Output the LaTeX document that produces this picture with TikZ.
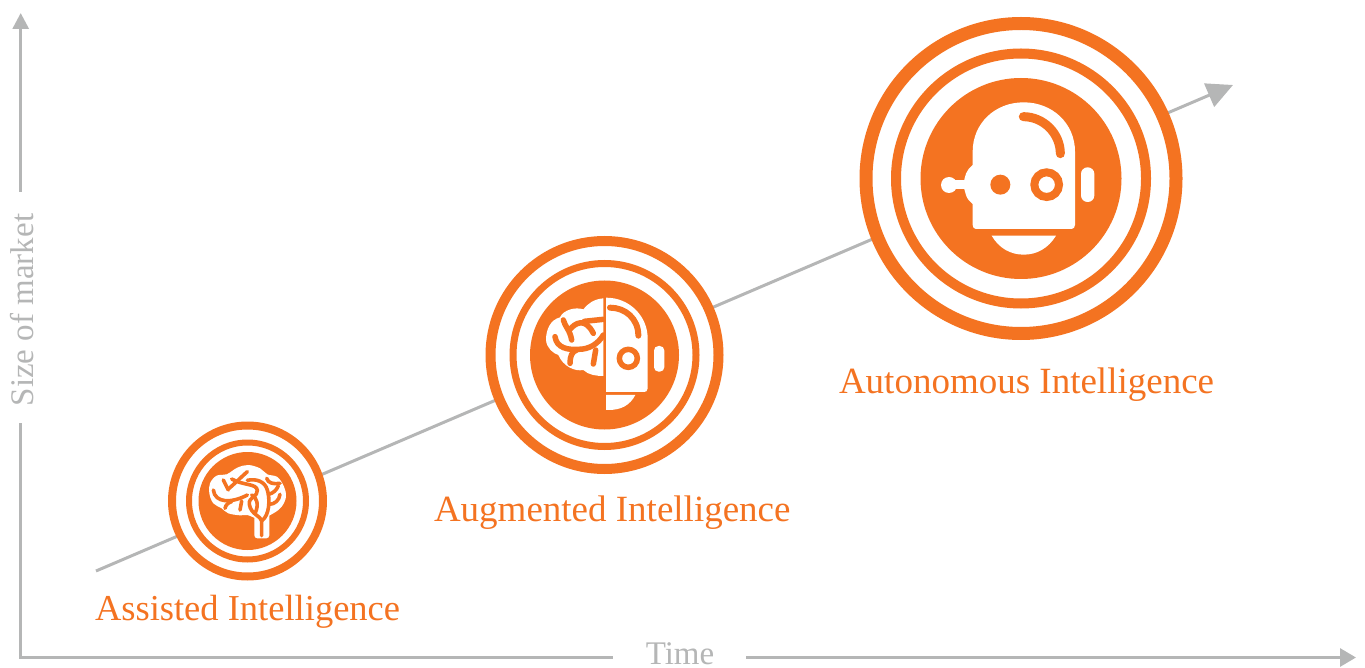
\documentclass[tikz,border=0pt]{standalone}
\usepackage{fontspec}
\setmainfont{Liberation Serif}
\usetikzlibrary{arrows.meta}
\definecolor{brand}{HTML}{F47321}
\definecolor{axisgrey}{HTML}{B5B6B6}
\tikzset{
    base/.style={x=1pt, y=-1pt, inner sep=0pt, outer sep=0pt},
    ring/.style={circle, draw=brand, fill=white, minimum size=#1},
    disc/.style={circle, fill=brand, minimum size=#1},
    axisline/.style={axisgrey, line width=3pt},
    trendline/.style={axisgrey, line width=3pt},
    caption/.style={brand, font=\fontsize{37}{37}\selectfont, anchor=base west},
    axislabel/.style={axisgrey, font=\fontsize{33}{33}\selectfont},
    vein/.style={brand, line cap=round, line join=round},
}

\begin{document}
\begin{tikzpicture}[base]
    \path [use as bounding box] (0,0) rectangle (1365,668);
    % axes
    \coordinate (origin) at (20.7,657.5);
    \coordinate (ytop) at (20.7,13);
    \coordinate (xend) at (1356,657.5);
    \node [axislabel, rotate=90, anchor=base] (ylabel) at (33,310) {Size of market};
    \node [axislabel, anchor=base] (xlabel) at (680,664) {Time};
    \coordinate (ygapa) at (20.7,423);
    \coordinate (ygapb) at (20.7,192);
    \coordinate (xgapa) at (613,657.5);
    \coordinate (xgapb) at (746,657.5);
    \draw [axisline] (ygapa) -- (origin) -- (xgapa);
    \draw [axisline, -{Triangle[length=16pt, width=16pt]}] (ygapb) -- (ytop);
    \draw [axisline, -{Triangle[length=16pt, width=18pt]}] (xgapb) -- (xend);
    % trend
    \coordinate (trendstart) at (96,571);
    \coordinate (trendend) at (1233,85);
    \draw [trendline, -{Triangle[length=26pt, width=25pt]}] (trendstart) -- (trendend);
    % assisted
    \node [ring=151pt, line width=8pt] (assistedouter) at (247.5,501) {};
    \node [ring=117pt, line width=6pt] (assistedinner) at (247.5,501) {};
    \node [disc=98pt] (assisteddisc) at (247.5,501) {};
    \begin{scope}[shift={(160,415)}, scale=1/3]
        \fill [white] plot [smooth cycle, tension=0.6] coordinates {(265,150) (300,160) (322,178) (352,186) (372,215) (378,245) (365,275) (340,295) (300,312) (262,300) (240,301) (205,295) (185,280) (160,265) (148,235) (150,205) (170,182) (200,178) (232,158)};
        \fill [white, rounded corners=3pt] (283,290) rectangle (328,370);
        \draw [vein, line width=3.6pt] (305,362) -- (305,318) .. controls (305,305) and (272,298) .. (268,268) .. controls (265,245) and (295,245) .. (292,225) .. controls (288,205) and (250,212) .. (215,192);
        \draw [vein, line width=3.6pt] (305,318) .. controls (330,300) and (330,250) .. (322,225) .. controls (315,200) and (290,190) .. (262,196);
        \draw [vein, line width=3.6pt] (205,222) .. controls (225,205) and (245,185) .. (262,170);
        \draw [vein, line width=3.6pt] (190,195) -- (205,225);
        \draw [vein, line width=3.6pt] (160,225) .. controls (165,265) and (215,265) .. (262,240);
        \draw [vein, line width=3.6pt] (195,280) .. controls (197,270) and (205,262) .. (215,260);
        \draw [vein, line width=3.6pt] (240,285) -- (245,258);
        \draw [vein, line width=3.6pt] (285,295) .. controls (298,270) and (290,245) .. (275,240);
        \draw [vein, line width=3.6pt] (325,238) .. controls (340,235) and (350,225) .. (355,212);
        \draw [vein, line width=3.6pt] (327,268) .. controls (345,268) and (358,255) .. (360,238);
        \draw [vein, line width=3.6pt] (320,190) .. controls (325,205) and (340,208) .. (360,205);
    \end{scope}
    \node [caption, font=\fontsize{36.5}{36.5}\selectfont] (assistedlabel) at (95,620) {Assisted Intelligence};
    % augmented
    \node [ring=228pt, line width=10pt] (augmentedouter) at (604.5,355) {};
    \node [ring=183pt, line width=7pt] (augmentedinner) at (604.5,355) {};
    \node [disc=149pt] (augmenteddisc) at (604.5,355) {};
    \begin{scope}[shift={(535,290)}, scale=1/3]
        \fill [white] (205,25) .. controls (175,28) and (160,40) .. (145,58) .. controls (120,50) and (85,60) .. (75,82) .. controls (45,90) and (33,120) .. (33,150) .. controls (35,175) and (55,190) .. (70,195) .. controls (85,230) and (120,245) .. (145,240) .. controls (160,255) and (185,258) .. (205,258) -- cycle;
        \draw [vein, line width=5.5pt] (85,90) .. controls (90,110) and (105,120) .. (110,150);
        \draw [vein, line width=5.5pt] (105,118) .. controls (120,100) and (150,80) .. (175,130);
        \draw [vein, line width=5.5pt] (148,94) -- (205,88);
        \draw [vein, line width=5.5pt] (60,140) .. controls (65,175) and (100,180) .. (130,178) .. controls (165,178) and (190,160) .. (205,135);
        \draw [vein, line width=5.5pt] (105,220) .. controls (105,200) and (110,185) .. (125,180);
        \draw [vein, line width=5.5pt] (175,222) -- (182,180);
    \end{scope}
    \begin{scope}[shift={(480,235)}, scale=1/3]
        \fill [white] (378,188) .. controls (450,188) and (503,245) .. (503,310) -- (503,460) .. controls (503,468) and (498,471) .. (492,471) -- (378,471) -- cycle;
        \fill [white] (378,480) -- (466,480) .. controls (450,510) and (425,525) .. (385,525) -- (378,525) -- cycle;
        \draw [brand, line width=6pt, line cap=round] (390,218) .. controls (435,218) and (475,250) .. (475,302);
        \draw [brand, line width=5.5pt] (445,370) circle [radius=27];
        \fill [white, rounded corners=4.5pt] (522,333) rectangle (553,410);
    \end{scope}
    \node [caption] (augmentedlabel) at (434,521) {Augmented Intelligence};
    % autonomous
    \node [ring=310pt, line width=13pt] (autonomousouter) at (1021,178.5) {};
    \node [ring=250pt, line width=10pt] (autonomousinner) at (1021,178.5) {};
    \node [disc=201pt] (autonomousdisc) at (1021,178.5) {};
    \begin{scope}[shift={(900,70)}, scale=1/3]
        \fill [white] (218,245) .. controls (218,160) and (285,97) .. (371,97) .. controls (457,97) and (525,160) .. (525,245) -- (525,465) .. controls (525,472) and (520,477) .. (515,477) -- (228,477) .. controls (222,477) and (218,472) .. (218,465) -- (218,402) .. controls (200,390) and (192,365) .. (192,343) .. controls (192,320) and (200,298) .. (218,285) -- cycle;
        \fill [white] (147,345) circle [radius=24];
        \fill [white] (150,329) rectangle (200,357);
        \fill [brand] (301,344) circle [radius=30];
        \draw [brand, line width=8pt] (440,344) circle [radius=37];
        \draw [brand, line width=9pt, line cap=round] (370,140) .. controls (430,140) and (481,190) .. (481,251);
        \fill [white, rounded corners=6.5pt] (543,292) rectangle (583,396);
        \fill [white] (275,497) -- (468,497) .. controls (445,535) and (410,554) .. (371,554) .. controls (332,554) and (297,535) .. (275,497) -- cycle;
    \end{scope}
    \node [caption] (autonomouslabel) at (839,393) {Autonomous Intelligence};
\end{tikzpicture}
\end{document}
